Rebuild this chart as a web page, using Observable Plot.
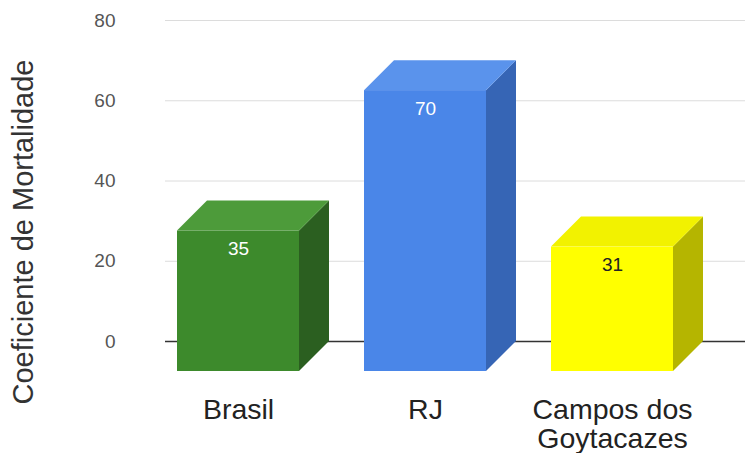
<!DOCTYPE html>
<html>
<head>
<meta charset="utf-8">
<script src="https://cdn.jsdelivr.net/npm/d3@7"></script>
<script src="https://cdn.jsdelivr.net/npm/@observablehq/plot@0.6"></script>
<style>
  body { margin: 0; background: #fff; }
  svg { display: block; }
</style>
</head>
<body>
<div id="chart"></div>
<script>
// ---- data ----
const categories = ["Brasil", "RJ", "Campos dos Goytacazes"];
const axisLabels = ["Brasil", "RJ", "Campos dos\nGoytacazes"];
const values = [35, 70, 31];
const yTicks = [0, 20, 40, 60, 80];
const yTitle = "Coeficiente de Mortalidade";

// ---- colours ----
const frontColors = ["#3d8a2c", "#4a86e8", "#ffff00"];
const topColors = ["#4d9b3a", "#5a93ec", "#f2f200"];
const sideColors = ["#2b5f20", "#3665b5", "#b5b500"];
const labelColors = ["#ffffff", "#ffffff", "#222222"];

const data = categories.map((c, i) => ({
  category: c,
  label: axisLabels[i],
  value: values[i],
  front: frontColors[i],
  top: topColors[i],
  side: sideColors[i],
  labelColor: labelColors[i]
}));

const depth = 30; // 3D extrusion in pixels
const font = '"Liberation Sans", Arial, Helvetica, sans-serif';

const chart = Plot.plot({
  width: 745,
  height: 453,
  marginLeft: 165,
  marginRight: 0,
  marginTop: 20,
  marginBottom: 112,
  style: { fontFamily: font, background: "#fff", overflow: "visible" },
  x: { domain: categories, paddingInner: 0.35, paddingOuter: 0.22, axis: null },
  y: { domain: [0, 80] },
  color: { type: "identity" },
  marks: [
    Plot.gridY(yTicks, { stroke: "#dcdcdc", strokeOpacity: 1 }),
    Plot.axisY(yTicks, { tickSize: 0, tickPadding: 50, fontSize: 19, color: "#555", fill: "#555", label: null }),
    Plot.ruleY([0], { stroke: "#333", strokeWidth: 1.5 }),
    // side face (sheared afterwards)
    Plot.barY(data, { x: "category", y: "value", fill: "side" }),
    // top face (sheared afterwards)
    Plot.barY(data, { x: "category", y: "value", fill: "top" }),
    // front face
    Plot.barY(data, { x: "category", y: "value", fill: "front", dx: -depth, dy: depth }),
    // value labels
    Plot.text(data, {
      x: "category", y: "value", text: d => String(d.value),
      fill: "labelColor", dx: -depth, dy: depth + 18, fontSize: 19
    }),
    // category labels
    Plot.text(data, {
      x: "category", text: "label", frameAnchor: "bottom", lineAnchor: "top",
      dx: -depth, dy: 57, fontSize: 28.5, lineHeight: 1.02, fill: "#222"
    }),
    // y title
    Plot.text([yTitle], {
      frameAnchor: "left", textAnchor: "middle", lineAnchor: "middle",
      rotate: -90, dx: -142, dy: 51, fontSize: 29, fill: "#333"
    })
  ]
});

// shear the side and top faces into 3D parallelograms
const bars = chart.querySelectorAll('g[aria-label="bar"]');
bars[0].querySelectorAll("rect").forEach(r => {
  const L = +r.getAttribute("x"), w = +r.getAttribute("width");
  const R = L + w, k = depth / w;
  r.setAttribute("transform", `matrix(${k},${-k},0,1,${R - depth - k * L},${depth + k * L})`);
});
bars[1].querySelectorAll("rect").forEach(r => {
  const T = +r.getAttribute("y"), h = +r.getAttribute("height");
  const k = depth / h;
  r.setAttribute("transform", `matrix(1,0,${-k},${k},${k * T},${T - k * T})`);
});

document.getElementById("chart").appendChild(chart);
</script>
</body>
</html>
